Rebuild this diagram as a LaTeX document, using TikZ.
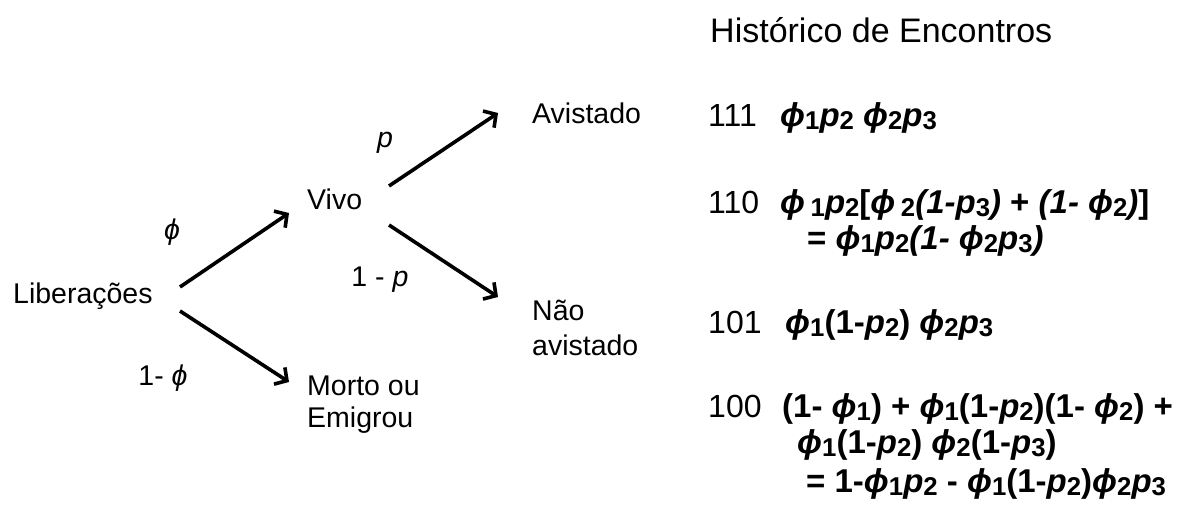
\documentclass[tikz,border=0pt]{standalone}
\usepackage{fontspec}
\setmainfont{Liberation Sans}
\usetikzlibrary{arrows.meta}
% subscripts and symbols for the encounter histories
\newcommand{\sbs}[1]{\raisebox{-0.2ex}{\scalebox{0.78}{#1}}}
\newcommand{\phs}[1]{\textit{ϕ}\sbs{#1}}
\newcommand{\pps}[1]{\textit{p}\sbs{#1}}
\tikzset{
  texto/.style={font=\fontsize{28.5}{35}\selectfont, inner sep=0pt, anchor=base west},
  multi/.style={texto, align=left},
  prob/.style={font=\fontsize{28.5}{35}\selectfont, inner sep=0pt},
  numero/.style={texto, font=\fontsize{32}{38}\selectfont},
  formula/.style={texto, font=\fontsize{33}{38}\selectfont\bfseries},
  seta/.style={line width=3.6pt, -{Straight Barb[length=9pt,width=20pt,line width=3.6pt]}},
}
\begin{document}
\begin{tikzpicture}[x=1pt,y=-1pt]
\useasboundingbox (0,0) rectangle (1186,506);
% tree
\node[texto] (lib) at (13,303) {Liberações};
\node[texto] (vivo) at (307,209) {Vivo};
\node[multi, font=\fontsize{28.5}{32}\selectfont] (morto) at (307,427) {Morto ou\\Emigrou};
\node[texto] (avist) at (532,123) {Avistado};
\node[multi] (naoav) at (532,355) {Não\\avistado};
\coordinate (lib-c) at (180,287);
\coordinate (lib-b) at (180,311);
\coordinate (vivo-in) at (289,213);
\coordinate (morto-in) at (289,382);
\coordinate (vivo-c) at (389,186);
\coordinate (vivo-b) at (389,225);
\coordinate (avist-in) at (498,113);
\coordinate (naoav-in) at (498,297);
\draw[seta] (lib-c) -- (vivo-in);
\draw[seta] (lib-b) -- (morto-in);
\draw[seta] (vivo-c) -- (avist-in);
\draw[seta] (vivo-b) -- (naoav-in);
\node[prob] (pvivo) at (172,232) {\textit{ϕ}};
\node[prob] (pmorto) at (163,378) {1- \textit{ϕ}};
\node[prob] (pavist) at (385,143) {\textit{p}};
\node[prob] (pnaoav) at (380,280) {1 - \textit{p}};
% histories
\node[texto, font=\fontsize{34}{40}\selectfont] (titulo) at (710,42) {Histórico de Encontros};
\node[numero] (h111) at (708,126) {111};
\node[formula] (f111) at (780,126) {\phs{1}\pps{2} \phs{2}\pps{3}};
\node[numero] (h110) at (708,213) {110};
\node[formula] (f110) at (780,213) {\textit{ϕ}\,\sbs{1}\pps{2}[\textit{ϕ}\,\sbs{2}\textit{(1-}\pps{3}\textit{)} + \textit{(1- }\phs{2}\textit{)}]};
\node[formula] (f110b) at (807,249) {= \phs{1}\pps{2}\textit{(1- }\phs{2}\pps{3}\textit{)}};
\node[numero] (h101) at (708,333) {101};
\node[formula] (f101) at (785,333) {\phs{1}(1-\pps{2}) \phs{2}\pps{3}};
\node[numero] (h100) at (708,417) {100};
\node[formula] (f100) at (782,417) {(1- \phs{1}) + \phs{1}(1-\pps{2})(1- \phs{2}) +};
\node[formula] (f100b) at (797,453) {\phs{1}(1-\pps{2}) \phs{2}(1-\pps{3})};
\node[formula] (f100c) at (806,492) {= 1-\phs{1}\pps{2} - \phs{1}(1-\pps{2})\phs{2}\pps{3}};
\end{tikzpicture}
\end{document}
